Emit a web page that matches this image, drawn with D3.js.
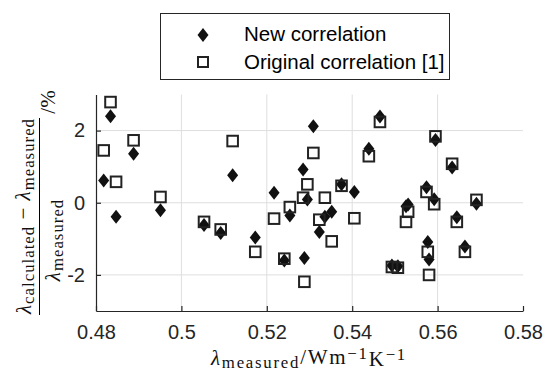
<!DOCTYPE html>
<html>
<head>
<meta charset="utf-8">
<script src="https://cdn.jsdelivr.net/npm/d3@7"></script>
<style>
  body { margin: 0; background: #fff; }
  svg { display: block; }
  .tick text { font-family: 'Liberation Sans', Arial, sans-serif; font-size: 20px; fill: #262626; }
  .axis path, .axis line { stroke: #262626; stroke-width: 1.2; }
  .grid line { stroke: #dedede; stroke-width: 1; }
  .math { font-family: 'Liberation Serif', 'DejaVu Serif', serif; fill: #111; }
</style>
</head>
<body>
<div class="chart"></div>
<script>
'use strict';

// lambda measured (W m^-1 K^-1) and relative deviations (%)
var lambdaMeasured = [0.4818, 0.4834, 0.4847, 0.4888, 0.4951, 0.5053, 0.5092, 0.5120, 0.5173, 0.5217,
  0.5241, 0.5254, 0.5285, 0.5288, 0.5295, 0.5309, 0.5323, 0.5336, 0.5352, 0.5375,
  0.5405, 0.5439, 0.5465, 0.5493, 0.5507, 0.5526, 0.5531, 0.5574, 0.5577, 0.5580,
  0.5592, 0.5595, 0.5634, 0.5645, 0.5664, 0.5691];
var newCorrelation = [0.62, 2.40, -0.39, 1.36, -0.21, -0.62, -0.84, 0.76, -0.96, 0.28,
  -1.60, -0.35, 0.92, -1.53, 0.09, 2.12, -0.81, -0.39, -0.25, 0.51,
  0.30, 1.50, 2.39, -1.74, -1.76, -0.10, -0.05, 0.43, -1.09, -1.57,
  0.10, 1.74, 0.98, -0.40, -1.21, -0.03];
var originalCorrelation = [1.45, 2.79, 0.58, 1.73, 0.16, -0.53, -0.74, 1.71, -1.36, -0.44,
  -1.55, -0.12, 0.14, -2.19, 0.51, 1.38, -0.47, 0.14, -1.07, 0.47,
  -0.43, 1.29, 2.24, -1.78, -1.80, -0.53, -0.25, 0.30, -1.36, -2.00,
  -0.04, 1.84, 1.08, -0.53, -1.36, 0.08];
var xTicks = [0.48, 0.5, 0.52, 0.54, 0.56, 0.58];
var yTicks = [-2, 0, 2];
var legendLabels = ['New correlation', 'Original correlation [1]'];

var width = 544;
var height = 371;
var plot = { left: 96, right: 523, top: 94.5, bottom: 311 };

var x = d3.scaleLinear().domain([0.48, 0.58]).range([plot.left, plot.right]);
var y = d3.scaleLinear().domain([-3, 3]).range([plot.bottom, plot.top]);

var svg = d3.select('.chart').append('svg').attr('width', width).attr('height', height);

// grid
var grid = svg.append('g').attr('class', 'grid');
grid.selectAll('line.v').data(xTicks.slice(1, -1)).enter().append('line')
  .attr('x1', x).attr('x2', x).attr('y1', plot.top).attr('y2', plot.bottom);
grid.selectAll('line.h').data(yTicks).enter().append('line')
  .attr('x1', plot.left).attr('x2', plot.right).attr('y1', y).attr('y2', y);

// axes, ticks pointing inward
var xAxis = d3.axisBottom(x).tickValues(xTicks).tickFormat(d3.format('')).tickSizeInner(-5).tickSizeOuter(0).tickPadding(14);
var yAxis = d3.axisLeft(y).tickValues(yTicks).tickFormat(function (d) { return d < 0 ? '-' + Math.abs(d) : d; })
  .tickSizeInner(-5).tickSizeOuter(0).tickPadding(11);

svg.append('g').attr('class', 'x axis').attr('transform', 'translate(0,' + plot.bottom + ')').call(xAxis);
svg.append('g').attr('class', 'y axis').attr('transform', 'translate(' + plot.left + ',0)').call(yAxis);

// markers
var diamond = function (cx, cy) {
  return 'M' + cx + ',' + (cy - 7) + 'L' + (cx + 5.5) + ',' + cy + 'L' + cx + ',' + (cy + 7) + 'L' + (cx - 5.5) + ',' + cy + 'Z';
};
var pts = lambdaMeasured.map(function (d, i) {
  return { x: d, n: newCorrelation[i], o: originalCorrelation[i] };
});

svg.append('g').selectAll('path').data(pts).enter().append('path')
  .attr('d', function (d) { return diamond(x(d.x), y(d.n)); })
  .attr('fill', '#111');
svg.append('g').selectAll('rect').data(pts).enter().append('rect')
  .attr('x', function (d) { return x(d.x) - 5.3; })
  .attr('y', function (d) { return y(d.o) - 5.3; })
  .attr('width', 10.6).attr('height', 10.6)
  .attr('fill', 'none').attr('stroke', '#222').attr('stroke-width', 2);

// legend
var lg = svg.append('g');
lg.append('rect').attr('x', 160.5).attr('y', 13.5).attr('width', 289).attr('height', 66)
  .attr('fill', '#fff').attr('stroke', '#262626').attr('stroke-width', 1);
lg.append('path').attr('d', diamond(203, 35)).attr('fill', '#111');
lg.append('rect').attr('x', 203 - 5).attr('y', 62 - 5).attr('width', 10).attr('height', 10)
  .attr('fill', 'none').attr('stroke', '#222').attr('stroke-width', 2);
lg.selectAll('text').data(legendLabels).enter().append('text')
  .attr('x', 244).attr('y', function (d, i) { return 41 + i * 27.5; })
  .style('font-family', "'Liberation Sans', Arial, sans-serif").style('font-size', '20.5px').style('fill', '#000')
  .text(function (d) { return d; });

// widen a math label with letter spacing so it spans the same length as in the figure
var fit = function (sel, target) {
  var node = sel.node();
  var len = node.getComputedTextLength();
  var n = node.getNumberOfChars();
  var ls = (target - len) / n;
  sel.style('letter-spacing', ls + 'px');
  return ls;
};

// x label
var xl = svg.append('text').attr('class', 'math').attr('x', 309).attr('y', 365)
  .attr('text-anchor', 'middle').style('font-size', '21px');
xl.append('tspan').style('font-style', 'italic').text('λ');
xl.append('tspan').attr('dy', '0.18em').style('font-size', '0.8em').text('measured');
xl.append('tspan').attr('dy', '-0.18em').text('/Wm');
xl.append('tspan').attr('dy', '-0.33em').style('font-size', '0.8em').text('−1');
xl.append('tspan').attr('dy', '0.33em').text('K');
xl.append('tspan').attr('dy', '-0.33em').style('font-size', '0.8em').text('−1');
fit(xl, 196);

// y label: fraction rotated
var yl = svg.append('g');
var num = yl.append('text').attr('class', 'math').attr('text-anchor', 'middle')
  .attr('transform', 'translate(31,216) rotate(-90)').style('font-size', '21px');
num.append('tspan').style('font-style', 'italic').text('λ');
num.append('tspan').attr('dy', '0.2em').style('font-size', '0.8em').text('calculated');
num.append('tspan').attr('dy', '-0.2em').text(' − ');
num.append('tspan').style('font-style', 'italic').text('λ');
num.append('tspan').attr('dy', '0.2em').style('font-size', '0.8em').text('measured');
var ls = fit(num, 196);

yl.append('line').attr('x1', 39.5).attr('x2', 39.5).attr('y1', 118).attr('y2', 315)
  .attr('stroke', '#000').attr('stroke-width', 1);

var den = yl.append('text').attr('class', 'math').attr('text-anchor', 'middle')
  .attr('transform', 'translate(60,240) rotate(-90)').style('font-size', '21px')
  .style('letter-spacing', ls + 'px');
den.append('tspan').style('font-style', 'italic').text('λ');
den.append('tspan').attr('dy', '0.2em').style('font-size', '0.8em').text('measured');

yl.append('text').attr('class', 'math').attr('text-anchor', 'middle')
  .attr('transform', 'translate(55,102) rotate(-90)').style('font-size', '21px').text('/%');
</script>
</body>
</html>
